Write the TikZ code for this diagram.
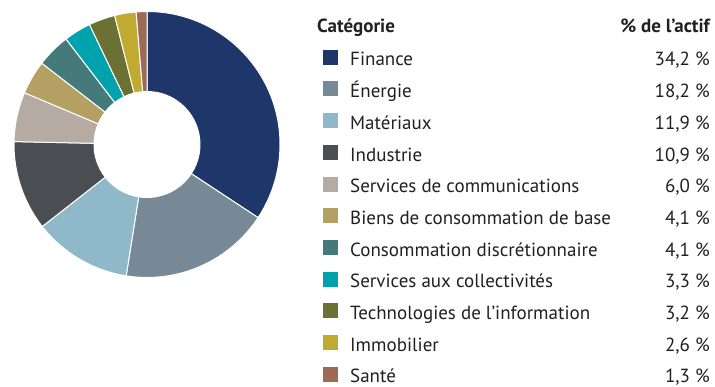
\documentclass[tikz,border=0pt]{standalone}
\usepackage{fontspec}
\setmainfont{PT Sans}
\definecolor{txt}{HTML}{231F20}
\definecolor{cFin}{HTML}{1E3669}
\definecolor{cEne}{HTML}{778896}
\definecolor{cMat}{HTML}{8FB8C9}
\definecolor{cInd}{HTML}{4A4D52}
\definecolor{cSer}{HTML}{B5ABA2}
\definecolor{cBie}{HTML}{B5A063}
\definecolor{cCon}{HTML}{457A7A}
\definecolor{cCol}{HTML}{00A3AD}
\definecolor{cTec}{HTML}{6B7033}
\definecolor{cImm}{HTML}{C0AA2F}
\definecolor{cSan}{HTML}{9C6B58}
\newcommand\donutslice[3]{%
  \fill[#1,draw=white,line width=1pt] (#2:133) arc[start angle=#2,end angle=#3,radius=133] -- (#3:53) arc[start angle=#3,end angle=#2,radius=53] -- cycle;}
\tikzset{
  lab/.style={anchor=base west,inner sep=0pt,text=txt,font=\fontsize{19}{22}\selectfont},
  pct/.style={anchor=base east,inner sep=0pt,text=txt,font=\fontsize{19}{22}\selectfont},
  head/.style={inner sep=0pt,text=txt,font=\fontsize{19}{22}\selectfont\bfseries},
  sq/.style={minimum size=15pt,inner sep=0pt,anchor=south west}
}
\begin{document}
\begin{tikzpicture}[x=1pt,y=1pt]
\useasboundingbox (0,0) rectangle (715,387);
\begin{scope}[shift={(147,242.5)}]
\donutslice{cFin}{90}{-33.367}
\donutslice{cEne}{-33.367}{-99.018}
\donutslice{cMat}{-99.018}{-141.944}
\donutslice{cInd}{-141.944}{-181.263}
\donutslice{cSer}{-181.263}{-202.906}
\donutslice{cBie}{-202.906}{-217.696}
\donutslice{cCon}{-217.696}{-232.486}
\donutslice{cCol}{-232.486}{-244.39}
\donutslice{cTec}{-244.39}{-255.933}
\donutslice{cImm}{-255.933}{-265.312}
\donutslice{cSan}{-265.312}{-270}
\end{scope}
\node[head,anchor=base west] (hcat) at (317,354) {Catégorie};
\node[head,anchor=base east] (hpct) at (710,354) {\% de l’actif};
\foreach \i/\c/\t/\p in {0/cFin/Finance/{34,2 \%},1/cEne/Énergie/{18,2 \%},2/cMat/Matériaux/{11,9 \%},3/cInd/Industrie/{10,9 \%},4/cSer/Services de communications/{6,0 \%},5/cBie/Biens de consommation de base/{4,1 \%},6/cCon/Consommation discrétionnaire/{4,1 \%},7/cCol/Services aux collectivités/{3,3 \%},8/cTec/Technologies de l’information/{3,2 \%},9/cImm/Immobilier/{2,6 \%},10/cSan/Santé/{1,3 \%}}{
  \pgfmathsetmacro\yy{387-66-31.7*\i}
  \node[sq,fill=\c] (sq\i) at (323,\yy+1) {};
  \node[lab] (lab\i) at (350,\yy) {\t};
  \node[pct] (pct\i) at (710,\yy) {\p};
}
\end{tikzpicture}
\end{document}
